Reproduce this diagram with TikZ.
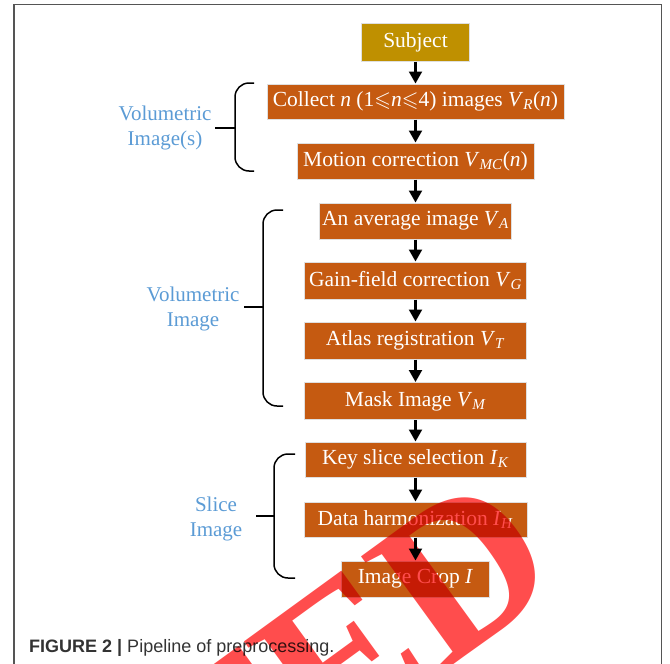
\documentclass[tikz,border=0pt]{standalone}
\usepackage{fontspec}
\usepackage{amssymb}
\setmainfont{Liberation Serif}
\newfontfamily\capfont{Liberation Sans}
\usetikzlibrary{arrows.meta}

\definecolor{boxorange}{HTML}{C55A11}
\definecolor{boxgold}{HTML}{BF9000}
\definecolor{labelblue}{HTML}{5B9BD5}
\definecolor{framegray}{HTML}{555555}
\definecolor{stampred}{HTML}{FF4D4D}
\newcommand{\vsub}[2]{\textit{#1}\textsubscript{\textit{#2}}}

\begin{document}
\begin{tikzpicture}[x=1pt,y=-1pt,
    stage/.style={fill=boxorange,draw=gray!25,line width=1pt,text=white,minimum height=35pt,inner sep=0pt,font=\fontsize{21.5}{25}\selectfont},
    flow/.style={line width=2.2pt,-{Triangle[length=12pt,width=13pt]}},
    group/.style={text=labelblue,align=center,font=\fontsize{21}{25}\selectfont},
    bracket/.style={line width=1.5pt,rounded corners=14pt}]
                \useasboundingbox (0,0) rectangle (670,664);
                \draw[framegray,line width=1.2pt] (14,680) -- (14,4.5) -- (661.5,4.5) -- (661.5,680);

                % pipeline
                \node (subject) at (415.5,42) [stage,fill=boxgold,minimum width=108pt,minimum height=38pt] {Subject};
                \node (collect) at (415.5,101.5) [stage,minimum width=297pt] {Collect \textit{n} (1$\leqslant$\textit{n}$\leqslant$4) images \vsub{V}{R}(\textit{n})};
                \node (motion) at (415.5,161) [stage,minimum width=237pt,minimum height=36pt] {Motion correction \vsub{V}{MC}(\textit{n})};
                \node (average) at (415.5,221) [stage,minimum width=192pt,minimum height=36pt] {An average image \vsub{V}{A}};
                \node (gain) at (415.5,280.5) [stage,minimum width=222pt,minimum height=37pt] {Gain-field correction \vsub{V}{G}};
                \node (atlas) at (415.5,340.5) [stage,minimum width=222pt,minimum height=37pt] {Atlas registration \vsub{V}{T}};
                \node (mask) at (415.5,401) [stage,minimum width=222pt,minimum height=37pt] {Mask Image \vsub{V}{M}};
                \node (key) at (415.5,459.5) [stage,minimum width=221pt] {Key slice selection \vsub{I}{K}};
                \node (harmon) at (415.5,519.5) [stage,minimum width=223pt] {Data harmonization \vsub{I}{H}};
                \node (crop) at (415.5,579) [stage,minimum width=148pt,minimum height=36pt] {Image Crop \textit{I}};

                \draw[flow] (subject) -- (collect);
                \draw[flow] (collect) -- (motion);
                \draw[flow] (motion) -- (average);
                \draw[flow] (average) -- (gain);
                \draw[flow] (gain) -- (atlas);
                \draw[flow] (atlas) -- (mask);
                \draw[flow] (mask) -- (key);
                \draw[flow] (key) -- (harmon);
                \draw[flow] (harmon) -- (crop);

                % groups
                \node (volimages) at (165,127.5) [group] {Volumetric \\ Image(s)};
                \node (volimage) at (193,309) [group] {Volumetric \\ Image};
                \node (sliceimage) at (216,518.5) [group] {Slice \\ Image};

                \draw[bracket] (254,83) -- (235,83) -- (235,171) -- (254,171);
                \draw[line width=1.5pt] (215,128) -- (235,128);
                \draw[bracket] (283,210) -- (263,210) -- (263,406) -- (283,406);
                \draw[line width=1.5pt] (244,307) -- (263,307);
                \draw[bracket] (295,454) -- (274,454) -- (274,578) -- (295,578);
                \draw[line width=1.5pt] (256,516) -- (274,516);

                \node (caption) at (29,652) [anchor=base west,inner sep=0pt,text=black!80,font=\capfont\fontsize{18}{21}\selectfont] {\textbf{FIGURE 2 |} Pipeline of preprocessing.};

                % stamp
                \begin{scope}[blend mode=multiply]
                \node (stamp) at (568,582) [anchor=base east,rotate=36,inner sep=0pt,text=stampred,font=\fontsize{216}{216}\selectfont\bfseries] {RETRACTED};
                \end{scope}
            \end{tikzpicture}
\end{document}
